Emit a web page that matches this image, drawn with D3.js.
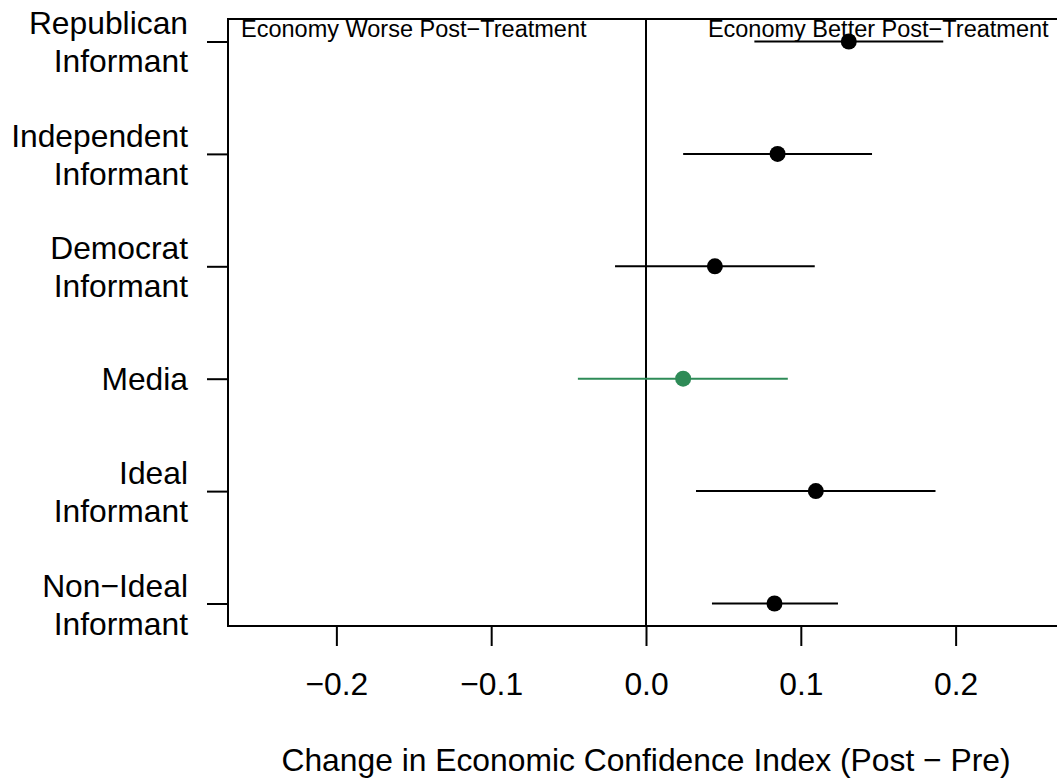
<!DOCTYPE html>
<html>
<head>
<meta charset="utf-8">
<script src="https://d3js.org/d3.v7.min.js"></script>
<style>
  body { margin: 0; background: white; }
  text { font-family: "Liberation Sans", Arial, sans-serif; fill: black; }
</style>
</head>
<body>
<div id="graph"></div>

<script>

// Data
var groups = ["Republican|Informant", "Independent|Informant", "Democrat|Informant",
              "Media", "Ideal|Informant", "Non\u2212Ideal|Informant"]
var estimate = [0.131, 0.085, 0.0445, 0.024, 0.1097, 0.083]
var lower    = [0.070, 0.024, -0.020, -0.044, 0.0323, 0.0426]
var upper    = [0.192, 0.146, 0.109, 0.0916, 0.187, 0.124]
var isMedia  = [false, false, false, true, false, false]
var xTicks   = [-0.2, -0.1, 0.0, 0.1, 0.2]
var xTitle   = "Change in Economic Confidence Index (Post \u2212 Pre)"
var notes    = [{x: -0.15, text: "Economy Worse Post\u2212Treatment"},
                {x: 0.15, text: "Economy Better Post\u2212Treatment"}]

// Dimensions
var W = 1057, H = 782
var plot = {left: 228, right: 1064, top: 19, bottom: 626}
var fontBig = '31.8px', fontSmall = '23.5px'

var svg = d3.select('#graph')
    .append("svg")
    .attr("width", W)
    .attr("height", H)

var x = d3.scaleLinear()
    .domain([-0.27, 0.27])
    .range([plot.left, plot.right])

// rows 1..6 from top, R style 4% padding
var y = d3.scaleLinear()
    .domain([0.8, 6.2])
    .range([plot.top, plot.bottom])

var rows = groups.map(function(g, i) {
  return {label: g, pos: i + 1, est: estimate[i], lo: lower[i], hi: upper[i],
          color: isMedia[i] ? '#2e8b57' : 'black'}
})

// vertical line at zero
svg.append('line')
  .attr('x1', x(0)).attr('x2', x(0))
  .attr('y1', plot.top).attr('y2', plot.bottom)
  .attr('stroke', 'black').attr('stroke-width', 2)

// X axis
var xAxis = svg.append('g')
  .attr("transform", `translate(0, ${plot.bottom})`)
  .call(d3.axisBottom(x).tickValues(xTicks).tickSize(20)
        .tickFormat(function(d) { return d3.format(".1f")(d).replace("-", "\u2212") }))
xAxis.select('.domain').remove()
xAxis.selectAll('line').attr('stroke', 'black').attr('stroke-width', 2)
xAxis.selectAll('text')
  .attr('y', 69).attr('dy', 0)
  .style('font-size', fontBig)
  .attr('fill', 'black')

// Y axis ticks
var yAxis = svg.append('g')
  .attr("transform", `translate(${plot.left}, 0)`)
  .call(d3.axisLeft(y).tickValues(rows.map(function(d) { return d.pos })).tickSize(21).tickFormat(''))
yAxis.select('.domain').remove()
yAxis.selectAll('line').attr('stroke', 'black').attr('stroke-width', 2)

// Y labels (one or two lines)
rows.forEach(function(d) {
  var lines = d.label.split('|')
  var t = svg.append('text')
    .attr('text-anchor', 'end')
    .style('font-size', fontBig)
  if (lines.length == 1) {
    t.append('tspan').attr('x', 188).attr('y', y(d.pos) + 11).text(lines[0])
  } else {
    t.append('tspan').attr('x', 188).attr('y', y(d.pos) - 7).text(lines[0])
    t.append('tspan').attr('x', 188).attr('y', y(d.pos) + 31).text(lines[1])
  }
})

// Confidence intervals
svg.append('g')
  .selectAll('line')
  .data(rows)
  .join('line')
    .attr('x1', function(d) { return x(d.lo) })
    .attr('x2', function(d) { return x(d.hi) })
    .attr('y1', function(d) { return y(d.pos) })
    .attr('y2', function(d) { return y(d.pos) })
    .attr('stroke', function(d) { return d.color })
    .attr('stroke-width', 2)

// Point estimates
svg.append('g')
  .selectAll('circle')
  .data(rows)
  .join('circle')
    .attr('cx', function(d) { return x(d.est) })
    .attr('cy', function(d) { return y(d.pos) })
    .attr('r', 8)
    .attr('fill', function(d) { return d.color })

// Annotations at top of plot
svg.selectAll('.note')
  .data(notes)
  .join('text')
    .attr('class', 'note')
    .attr('x', function(d) { return x(d.x) })
    .attr('y', 37)
    .attr('text-anchor', 'middle')
    .style('font-size', fontSmall)
    .text(function(d) { return d.text })

// Plot box
svg.append('rect')
  .attr('x', plot.left).attr('y', plot.top)
  .attr('width', plot.right - plot.left).attr('height', plot.bottom - plot.top)
  .attr('fill', 'none').attr('stroke', 'black').attr('stroke-width', 2)

// X title
svg.append('text')
  .attr('x', (plot.left + plot.right) / 2)
  .attr('y', 771)
  .attr('text-anchor', 'middle')
  .style('font-size', fontBig)
  .text(xTitle)

</script>
</body>
</html>
